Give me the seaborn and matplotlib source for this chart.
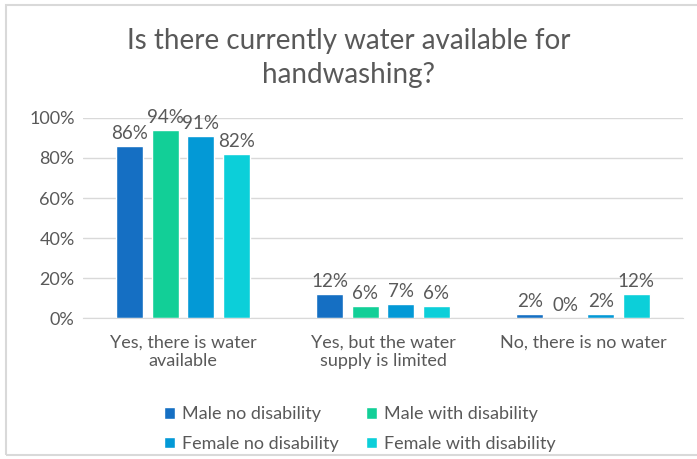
import matplotlib
matplotlib.use("Agg")
import matplotlib.pyplot as plt
import seaborn as sns
import pandas as pd
from matplotlib.patches import Rectangle

# Data
categories = ["Yes, there is water\navailable",
              "Yes, but the water\nsupply is limited",
              "No, there is no water"]
groups = ["Male no disability", "Male with disability",
          "Female no disability", "Female with disability"]
male_no = [86, 12, 2]
male_with = [94, 6, 0]
female_no = [91, 7, 2]
female_with = [82, 6, 12]
colors = ["#156FC3", "#12CF97", "#0399D6", "#0CCFD9"]

rows = []
for g, vals in zip(groups, [male_no, male_with, female_no, female_with]):
    for c, v in zip(categories, vals):
        rows.append({"category": c, "group": g, "value": v})
df = pd.DataFrame(rows)

sns.set_style("white")
plt.rcParams["font.family"] = ["Lato", "DejaVu Sans"]
text_col = "#595959"

fig = plt.figure(figsize=(6.97, 4.59), dpi=100)
ax = fig.add_axes([0.119, 0.307, 0.861, 0.436])

sns.barplot(data=df, x="category", y="value", hue="group",
            hue_order=groups, palette=colors, width=0.71, gap=0.24,
            saturation=1, ax=ax, legend=True)

for cont in ax.containers:
    ax.bar_label(cont, fmt="%g%%", padding=3, fontsize=13.5, color=text_col)

ax.set_ylim(0, 100)
ax.set_yticks(range(0, 101, 20))
ax.set_yticklabels([f"{t}%" for t in range(0, 101, 20)])
ax.yaxis.grid(True, color="#D9D9D9", linewidth=1)
ax.set_axisbelow(True)
ax.set_xlabel("")
ax.set_ylabel("")
for s in ["left", "right", "top"]:
    ax.spines[s].set_visible(False)
ax.spines["bottom"].set_color("#D9D9D9")
ax.tick_params(axis="both", length=0, labelsize=13, colors=text_col)
ax.tick_params(axis="x", pad=12)
ax.tick_params(axis="y", pad=6)

# legend filled row by row like the original
handles, labels = ax.get_legend_handles_labels()
order = [0, 2, 1, 3]
ax.legend([handles[i] for i in order], [labels[i] for i in order],
          loc="upper center", bbox_to_anchor=(0.462, -0.36), ncol=2,
          frameon=False, fontsize=13, labelcolor=text_col,
          handlelength=0.6, handleheight=0.6, handletextpad=0.4,
          columnspacing=1.5, labelspacing=0.75)

fig.text(0.5, 0.94, "Is there currently water available for\nhandwashing?",
         ha="center", va="top", fontsize=20, color=text_col, linespacing=1.38)

fig.patches.append(Rectangle((0.009, 0.008), 0.995, 0.982, transform=fig.transFigure,
                             fill=False, edgecolor="#D9D9D9", linewidth=1.5))

fig.savefig("out.png", dpi=100)
